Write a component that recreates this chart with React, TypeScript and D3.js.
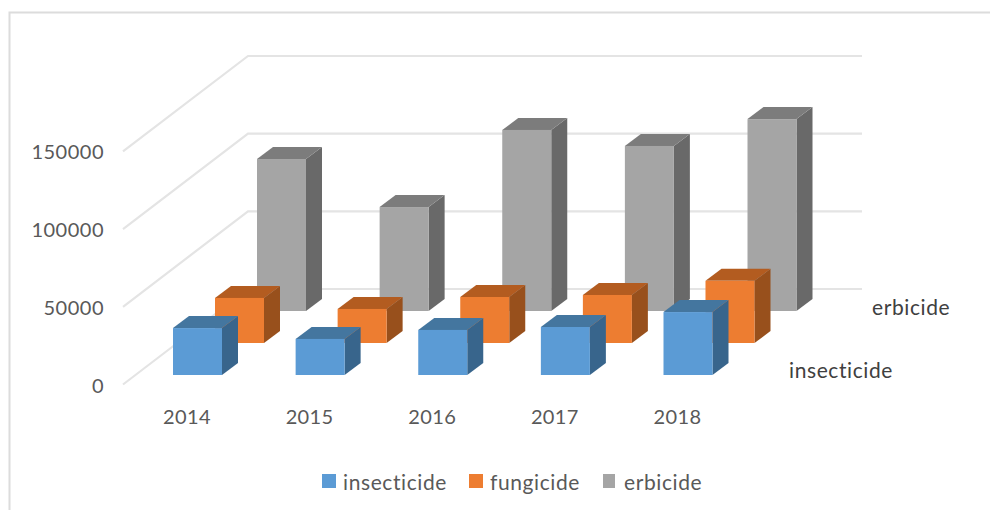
import React from "react";
import * as d3 from "d3";

const years = ["2014", "2015", "2016", "2017", "2018"];
const seriesNames = ["insecticide", "fungicide", "erbicide"];
const insecticide = [30200, 23200, 29000, 30900, 40500];
const fungicide = [29000, 21900, 29600, 30900, 40000];
const erbicide = [97800, 66900, 116500, 106200, 123500];
const yTicks = [0, 50000, 100000, 150000];
const gridValues = [0, 50000, 100000, 150000];

const faceColors = ["#5b9bd5", "#ed7d31", "#a5a5a5"];
const topColors = ["#44769f", "#b35c20", "#7c7c7c"];
const sideColors = ["#38658c", "#98501c", "#696969"];
const textFont = "Lato, 'Open Sans', sans-serif";

export default function App() {
  const seriesValues = [insecticide, fungicide, erbicide];
  const barW = 49;
  const dx = 16;
  const dy = 12;
  const x = d3.scalePoint<string>().domain(years).range([173, 663.5]);
  const h = d3.scaleLinear().domain([0, 50000]).range([0, 77.7]);
  const seriesX = d3.scaleLinear().domain([0, 2]).range([0, 84]);
  const seriesBase = d3.scaleLinear().domain([0, 2]).range([375, 311]);
  const front = d3.scaleLinear().domain([0, 150000]).range([384.5, 151.4]);
  const back = d3.scaleLinear().domain([0, 150000]).range([289, 56]);
  const gridX0 = 123;
  const gridX1 = 248;
  const gridX2 = 862;
  const poly = (pts: number[][]) => pts.map((p) => p.join(",")).join(" ");

  return (
    <svg
      width={990}
      height={510}
      style={{ position: "absolute", left: 0, top: 0, background: "#fff" }}
    >
      <path d="M990,12.5H9.5V510" fill="none" stroke="#dcdcdc" strokeWidth={2} />
      {gridValues.map((v) => (
        <polyline
          key={v}
          points={poly([[gridX0, front(v)], [gridX1, back(v)], [gridX2, back(v)]])}
          fill="none"
          stroke="#e4e4e4"
          strokeWidth={2.2}
        />
      ))}
      {[2, 1, 0].map((s) =>
        years.map((yr, i) => {
          const left = x(yr)! + seriesX(s);
          const right = left + barW;
          const base = seriesBase(s);
          const top = base - h(seriesValues[s][i]);
          return (
            <g key={`${s}-${yr}`}>
              <polygon
                points={poly([[right, top], [right + dx, top - dy], [right + dx, base - dy], [right, base]])}
                fill={sideColors[s]}
              />
              <polygon
                points={poly([[left, top], [left + dx, top - dy], [right + dx, top - dy], [right, top]])}
                fill={topColors[s]}
              />
              <rect x={left} y={top} width={barW} height={base - top} fill={faceColors[s]} />
            </g>
          );
        })
      )}
      <g fontFamily={textFont} fontSize={20} fill="#595959">
        {yTicks.map((v) => (
          <text key={v} x={104} y={front(v) + 8} textAnchor="end" letterSpacing={0.5}>
            {v}
          </text>
        ))}
        {years.map((yr) => (
          <text key={yr} x={x(yr)! + 14} y={424} textAnchor="middle" letterSpacing={0.4}>
            {yr}
          </text>
        ))}
      </g>
      <g fontFamily={textFont} fontSize={21} fill="#404040" letterSpacing={0.6}>
        <text x={872} y={315}>{seriesNames[2]}</text>
        <text x={789} y={378}>{seriesNames[0]}</text>
      </g>
      <g fontFamily={textFont} fontSize={21} fill="#595959" letterSpacing={0.6}>
        {seriesNames.map((name, s) => {
          const swatchX = [322, 469, 603][s];
          const textX = [343, 490, 624][s];
          return (
            <g key={name}>
              <rect x={swatchX} y={474} width={s === 2 ? 12 : 14} height={14} fill={faceColors[s]} />
              <text x={textX} y={490}>{name}</text>
            </g>
          );
        })}
      </g>
    </svg>
  );
}
